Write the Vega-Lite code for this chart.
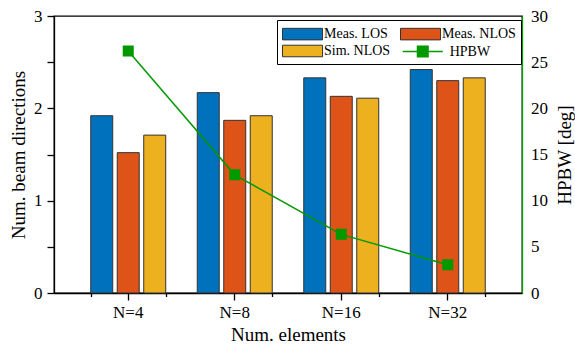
{
  "$schema": "https://vega.github.io/schema/vega-lite/v6.json",
  "width": 468,
  "height": 277,
  "autosize": "none",
  "padding": {"left": 54, "top": 16, "right": 53, "bottom": 54},
  "background": "white",
  "config": {
    "font": "Liberation Serif",
    "view": {"stroke": "black", "strokeWidth": 1.3},
    "axis": {
      "labelFont": "Liberation Serif",
      "titleFont": "Liberation Serif",
      "labelFontSize": 17,
      "titleFontSize": 19,
      "titleFontWeight": "normal",
      "labelColor": "black",
      "titleColor": "black",
      "grid": false,
      "domainColor": "black",
      "tickColor": "black",
      "domainWidth": 1.3,
      "tickWidth": 1.3
    },
    "legend": {
      "labelFont": "Liberation Serif",
      "labelFontSize": 14,
      "labelColor": "black",
      "symbolSize": 289,
      "symbolOpacity": 1,
      "rowPadding": 0
    }
  },
  "datasets": {
    "bars": [
      {"N": "N=4", "series": "Meas. LOS", "value": 1.92},
      {"N": "N=4", "series": "Meas. NLOS", "value": 1.52},
      {"N": "N=4", "series": "Sim. NLOS", "value": 1.71},
      {"N": "N=8", "series": "Meas. LOS", "value": 2.17},
      {"N": "N=8", "series": "Meas. NLOS", "value": 1.87},
      {"N": "N=8", "series": "Sim. NLOS", "value": 1.92},
      {"N": "N=16", "series": "Meas. LOS", "value": 2.33},
      {"N": "N=16", "series": "Meas. NLOS", "value": 2.13},
      {"N": "N=16", "series": "Sim. NLOS", "value": 2.11},
      {"N": "N=32", "series": "Meas. LOS", "value": 2.42},
      {"N": "N=32", "series": "Meas. NLOS", "value": 2.30},
      {"N": "N=32", "series": "Sim. NLOS", "value": 2.33}
    ],
    "hpbw": [
      {"N": "N=4", "series": "HPBW", "hpbw": 26.2},
      {"N": "N=8", "series": "HPBW", "hpbw": 12.8},
      {"N": "N=16", "series": "HPBW", "hpbw": 6.35},
      {"N": "N=32", "series": "HPBW", "hpbw": 3.05}
    ]
  },
  "layer": [
    {
      "data": {"name": "bars"},
      "mark": {"type": "bar", "stroke": "#333333", "strokeWidth": 1},
      "encoding": {
        "x": {
          "field": "N",
          "type": "nominal",
          "sort": ["N=4", "N=8", "N=16", "N=32"],
          "scale": {"paddingInner": 0.296, "paddingOuter": 0.345},
          "axis": {"title": "Num. elements", "labelAngle": 0, "labelFont": "Liberation Serif", "titleFont": "Liberation Serif", "tickSize": 7, "labelPadding": 4, "titlePadding": 5}
        },
        "xOffset": {
          "field": "series",
          "type": "nominal",
          "sort": ["Meas. LOS", "Meas. NLOS", "Sim. NLOS"],
          "scale": {"paddingInner": 0.17, "paddingOuter": 0}
        },
        "y": {
          "field": "value",
          "type": "quantitative",
          "scale": {"domain": [0, 3], "nice": false},
          "axis": {
            "title": "Num. beam directions",
            "labelFont": "Liberation Serif",
            "titleFont": "Liberation Serif",
            "values": [0, 0.5, 1, 1.5, 2, 2.5, 3],
            "labelExpr": "datum.value % 1 === 0 ? format(datum.value, 'd') : ''",
            "tickSize": 7,
            "labelPadding": 5,
            "titlePadding": 5,
            "encode": {"ticks": {"x2": {"value": {"expr": "datum.value % 1 === 0 ? -7 : -3"}}}}
          }
        },
        "fill": {
          "field": "series",
          "type": "nominal",
          "scale": {
            "domain": ["Meas. LOS", "Meas. NLOS", "Sim. NLOS"],
            "range": ["#0072BD", "#DE5318", "#EDB120"]
          },
          "legend": {
            "title": null,
            "orient": "none",
            "legendX": 223,
            "legendY": 4,
            "direction": "horizontal",
            "columns": 2,
            "columnPadding": 7,
            "padding": 5,
            "labelOffset": 24,
            "symbolType": "M-1,-0.68H3.71V0.68H-1Z",
            "symbolStrokeColor": "#333333",
            "symbolStrokeWidth": 1,
            "strokeColor": "black",
            "fillColor": "white"
          }
        }
      }
    },
    {
      "data": {"name": "hpbw"},
      "mark": {"type": "line", "strokeWidth": 1.5, "color": "#009900", "point": {"shape": "square", "filled": true, "size": 81, "opacity": 1, "color": "#009900"}},
      "encoding": {
        "x": {
          "field": "N",
          "type": "nominal",
          "sort": ["N=4", "N=8", "N=16", "N=32"],
          "axis": {"orient": "bottom", "title": null, "labels": false, "tickSize": 3.5, "tickBand": "extent", "domain": false}
        },
        "y": {
          "field": "hpbw",
          "type": "quantitative",
          "scale": {"domain": [0, 30], "nice": false},
          "axis": {
            "orient": "right",
            "title": "HPBW [deg]",
            "labelFont": "Liberation Serif",
            "titleFont": "Liberation Serif",
            "titleAngle": 270,
            "titleBaseline": "top",
            "values": [0, 2.5, 5, 7.5, 10, 12.5, 15, 17.5, 20, 22.5, 25, 27.5, 30],
            "labelExpr": "datum.value % 5 === 0 ? format(datum.value, 'd') : ''",
            "tickSize": 0,
            "labelPadding": 8.5,
            "titlePadding": 8,
            "domainColor": "#00a000",
            "tickColor": "#00a000",
            "encode": {"ticks": {"x2": {"value": {"expr": "datum.value % 5 === 0 ? -6 : -3"}}}}
          }
        },
        "stroke": {
          "field": "series",
          "type": "nominal",
          "scale": {"domain": ["HPBW"], "range": ["#009900"]},
          "legend": {
            "title": null,
            "orient": "none",
            "legendX": 347.7,
            "legendY": 26,
            "padding": 0,
            "labelOffset": 29,
            "symbolType": "M-1,0H3.71M0.74,-0.62H1.98V0.62H0.74Z",
            "symbolFillColor": "#009900",
            "symbolStrokeWidth": 1.5
          }
        }
      }
    }
  ],
  "resolve": {"scale": {"y": "independent"}, "axis": {"x": "independent"}}
}
